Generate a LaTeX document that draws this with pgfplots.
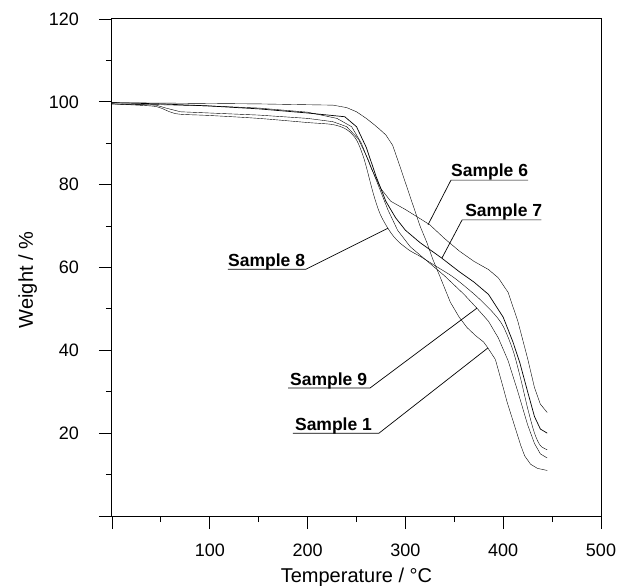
\documentclass[border=0pt]{standalone}
\usepackage{fontspec}
\setmainfont{Liberation Sans}
\usepackage{pgfplots}
\pgfplotsset{compat=1.18}
\begin{document}
\begin{tikzpicture}
\path[use as bounding box] (-112bp,-70bp) rectangle (507bp,516bp);
\begin{axis}[
 at={(0,0)}, anchor=south west,
 width=489bp, height=497bp, scale only axis,
 xmin=0, xmax=500, ymin=0, ymax=120,
 xtick={0,100,...,500}, xticklabels={,100,200,300,400,500},
 ytick={0,20,...,120}, yticklabels={,20,40,60,80,100,120},
 minor x tick num=1, minor y tick num=1,
 tick align=outside, xtick pos=bottom, ytick pos=left,
 major tick length=13bp, minor tick length=6bp,
 every tick/.style={black, line width=0.9bp},
 axis line style={line width=1bp},
 /pgf/number format/assume math mode=true,
 tick label style={font=\fontsize{18bp}{20bp}\selectfont},
 xticklabel style={anchor=north, inner sep=0pt, yshift=-15bp},
 yticklabel style={anchor=east, inner sep=0pt, xshift=-20bp},
 label style={font=\fontsize{20bp}{24bp}\selectfont},
 xlabel={Temperature / °C},
 ylabel={Weight / \%},
 xlabel style={at={(axis description cs:0.5,-0.1328)}, anchor=base},
 ylabel style={at={(axis description cs:-0.1616,0.475)}, anchor=base},
 cycle list={{black, no markers, line width=0.7bp, smooth, tension=0.4}},
]
% Sample 1
\addplot coordinates {(0,99.8)(50,99.7)(100,99.6)(150,99.5)(200,99.3)(226,99.2)(240,98.6)(250,97.6)(260,96)(268,94.5)(274,93.3)(280,92)(287,89.5)(295,84)(305,77)(315,70)(322,66)(328,62)(335,58)(346,51.6)(355,48)(363,45.5)(372,43.5)(380,42)(384,40.7)(392,37.8)(400,31)(404,27.5)(410,23)(414,20)(418,17)(422,14.5)(428,12.5)(435,11.5)(445,11)};
% Sample 6
\addplot coordinates {(0,99.5)(50,99.3)(100,99)(150,98.5)(200,97.5)(230,96)(245,94)(255,90)(265,84)(275,79)(285,76)(300,74)(315,71.8)(325,70.3)(340,67)(355,64)(370,61.5)(385,59.5)(395,57.5)(405,54)(415,47)(425,38)(432,31)(438,27)(445,25)};
% Sample 7
\addplot coordinates {(0,99.8)(50,99.5)(100,99)(150,98.3)(200,97.3)(238,96.4)(250,94)(260,89)(270,82)(280,76)(290,72)(300,69)(315,66)(337,62.3)(355,59)(370,56.5)(385,53.5)(400,48)(410,42)(417,37)(425,30)(432,24)(438,21)(445,20)};
% Sample 8
\addplot coordinates {(0,99.5)(40,99)(50,98.5)(60,97.5)(70,97)(100,96.7)(150,96)(200,95)(226,94.5)(240,93.3)(250,90.8)(258,86)(267,78)(274,73)(282,69.5)(288,67.5)(294,66)(305,64)(315,62.7)(332,60.2)(350,57.5)(373,53)(390,49)(400,45.8)(410,40)(418,33)(425,26)(432,20)(438,17)(445,16)};
% Sample 9
\addplot coordinates {(0,99.5)(45,99.2)(55,98.5)(70,97.6)(100,97.3)(150,96.8)(200,96)(226,95.2)(240,94)(252,91)(262,86)(272,80)(282,74)(292,69)(305,65)(320,62)(340,58)(360,53.5)(373,50.2)(385,47)(395,43)(405,37.5)(415,30)(425,22)(432,17.5)(438,15)(445,14)};
% labels
\tikzset{samp/.style={anchor=base west, inner sep=0pt, font=\bfseries\fontsize{17.5bp}{20bp}\selectfont}}
\node[samp] at (axis cs:346.6,82.0) {Sample 6};
\draw[line width=0.7bp] (axis cs:425.4,81.1) -- (axis cs:346.6,81.1) -- (axis cs:323.1,70.3);
\node[samp] at (axis cs:361,72.4) {Sample 7};
\draw[line width=0.7bp] (axis cs:439,71.5) -- (axis cs:358,71.5) -- (axis cs:337.4,62.3);
\node[samp] at (axis cs:118.6,60.3) {Sample 8};
\draw[line width=0.7bp] (axis cs:118.6,59.6) -- (axis cs:198.4,59.6) -- (axis cs:282.2,69.5);
\node[samp] at (axis cs:182,31.5) {Sample 9};
\draw[line width=0.7bp] (axis cs:180,30.9) -- (axis cs:263.8,30.9) -- (axis cs:373.2,50.2);
\node[samp] at (axis cs:187,20.7) {Sample 1};
\draw[line width=0.7bp] (axis cs:185,20) -- (axis cs:273,20) -- (axis cs:384.5,40.6);
\end{axis}
\end{tikzpicture}
\end{document}
